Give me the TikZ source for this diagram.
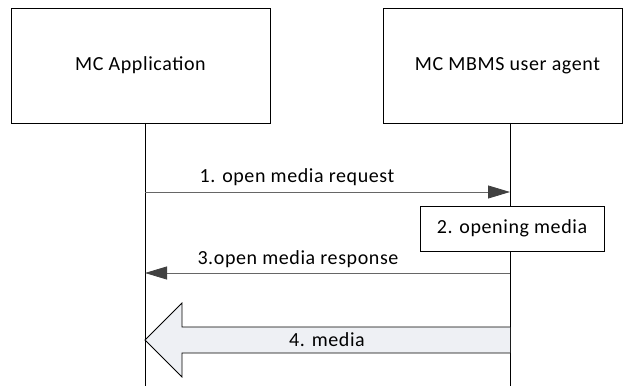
\documentclass[tikz,border=0pt]{standalone}
\usepackage{fontspec}
\setmainfont{Carlito}[LetterSpace=3]
\usetikzlibrary{arrows.meta}
\begin{document}
\begin{tikzpicture}[x=1pt,y=-1pt,
  entity/.style={draw=black,line width=0.8pt,minimum width=259pt,minimum height=115pt,inner sep=0pt,font=\fontsize{20}{22}\selectfont},
  procbox/.style={draw=black,line width=0.8pt,minimum width=184pt,minimum height=45pt,inner sep=0pt,font=\fontsize{20}{22}\selectfont},
  lifeline/.style={draw=black,line width=0.8pt},
  msg/.style={draw=black!60,line width=0.8pt,-{Triangle[length=22pt,width=13pt,fill=black!75,color=black!75]}},
  lbl/.style={font=\fontsize{20}{22}\selectfont},
  bigarrow/.style={draw=black,line width=0.8pt,fill={rgb,255:red,238;green,240;blue,244}}]
\useasboundingbox (0,0) rectangle (624,390);
\node[entity] (app) at (140.5,65.5) {MC Application};
\node[entity, minimum width=239pt] (ua) at (502.5,65.5) {\hspace{10pt}MC MBMS user agent};
\coordinate (appTop) at (145,123);
\coordinate (appBot) at (145,386);
\coordinate (uaTop) at (510,123);
\coordinate (uaBot) at (510,386);
\draw[lifeline] (appTop) -- (appBot);
\draw[lifeline] (uaTop) -- (uaBot);
% message 1
\coordinate (m1s) at (145,192);
\coordinate (m1e) at (510,192);
\draw[msg] (m1s) -- (m1e);
\node[lbl] (l1) at (297,177) {1. open media request};
% box 2
\node[procbox, fill=white] (open) at (512,228.5) {2. opening media};
% message 3
\coordinate (m3s) at (510,273);
\coordinate (m3e) at (145,273);
\draw[msg] (m3s) -- (m3e);
\node[lbl] (l3) at (298,259) {3.open media response};
% big arrow 4
\coordinate (tip) at (145,340);
\draw[bigarrow] (510,327) -- (182,327) -- (182,303) -- (tip) -- (182,377) -- (182,353) -- (510,353);
\node[lbl] (l4) at (327,340) {4. media};
\end{tikzpicture}
\end{document}
